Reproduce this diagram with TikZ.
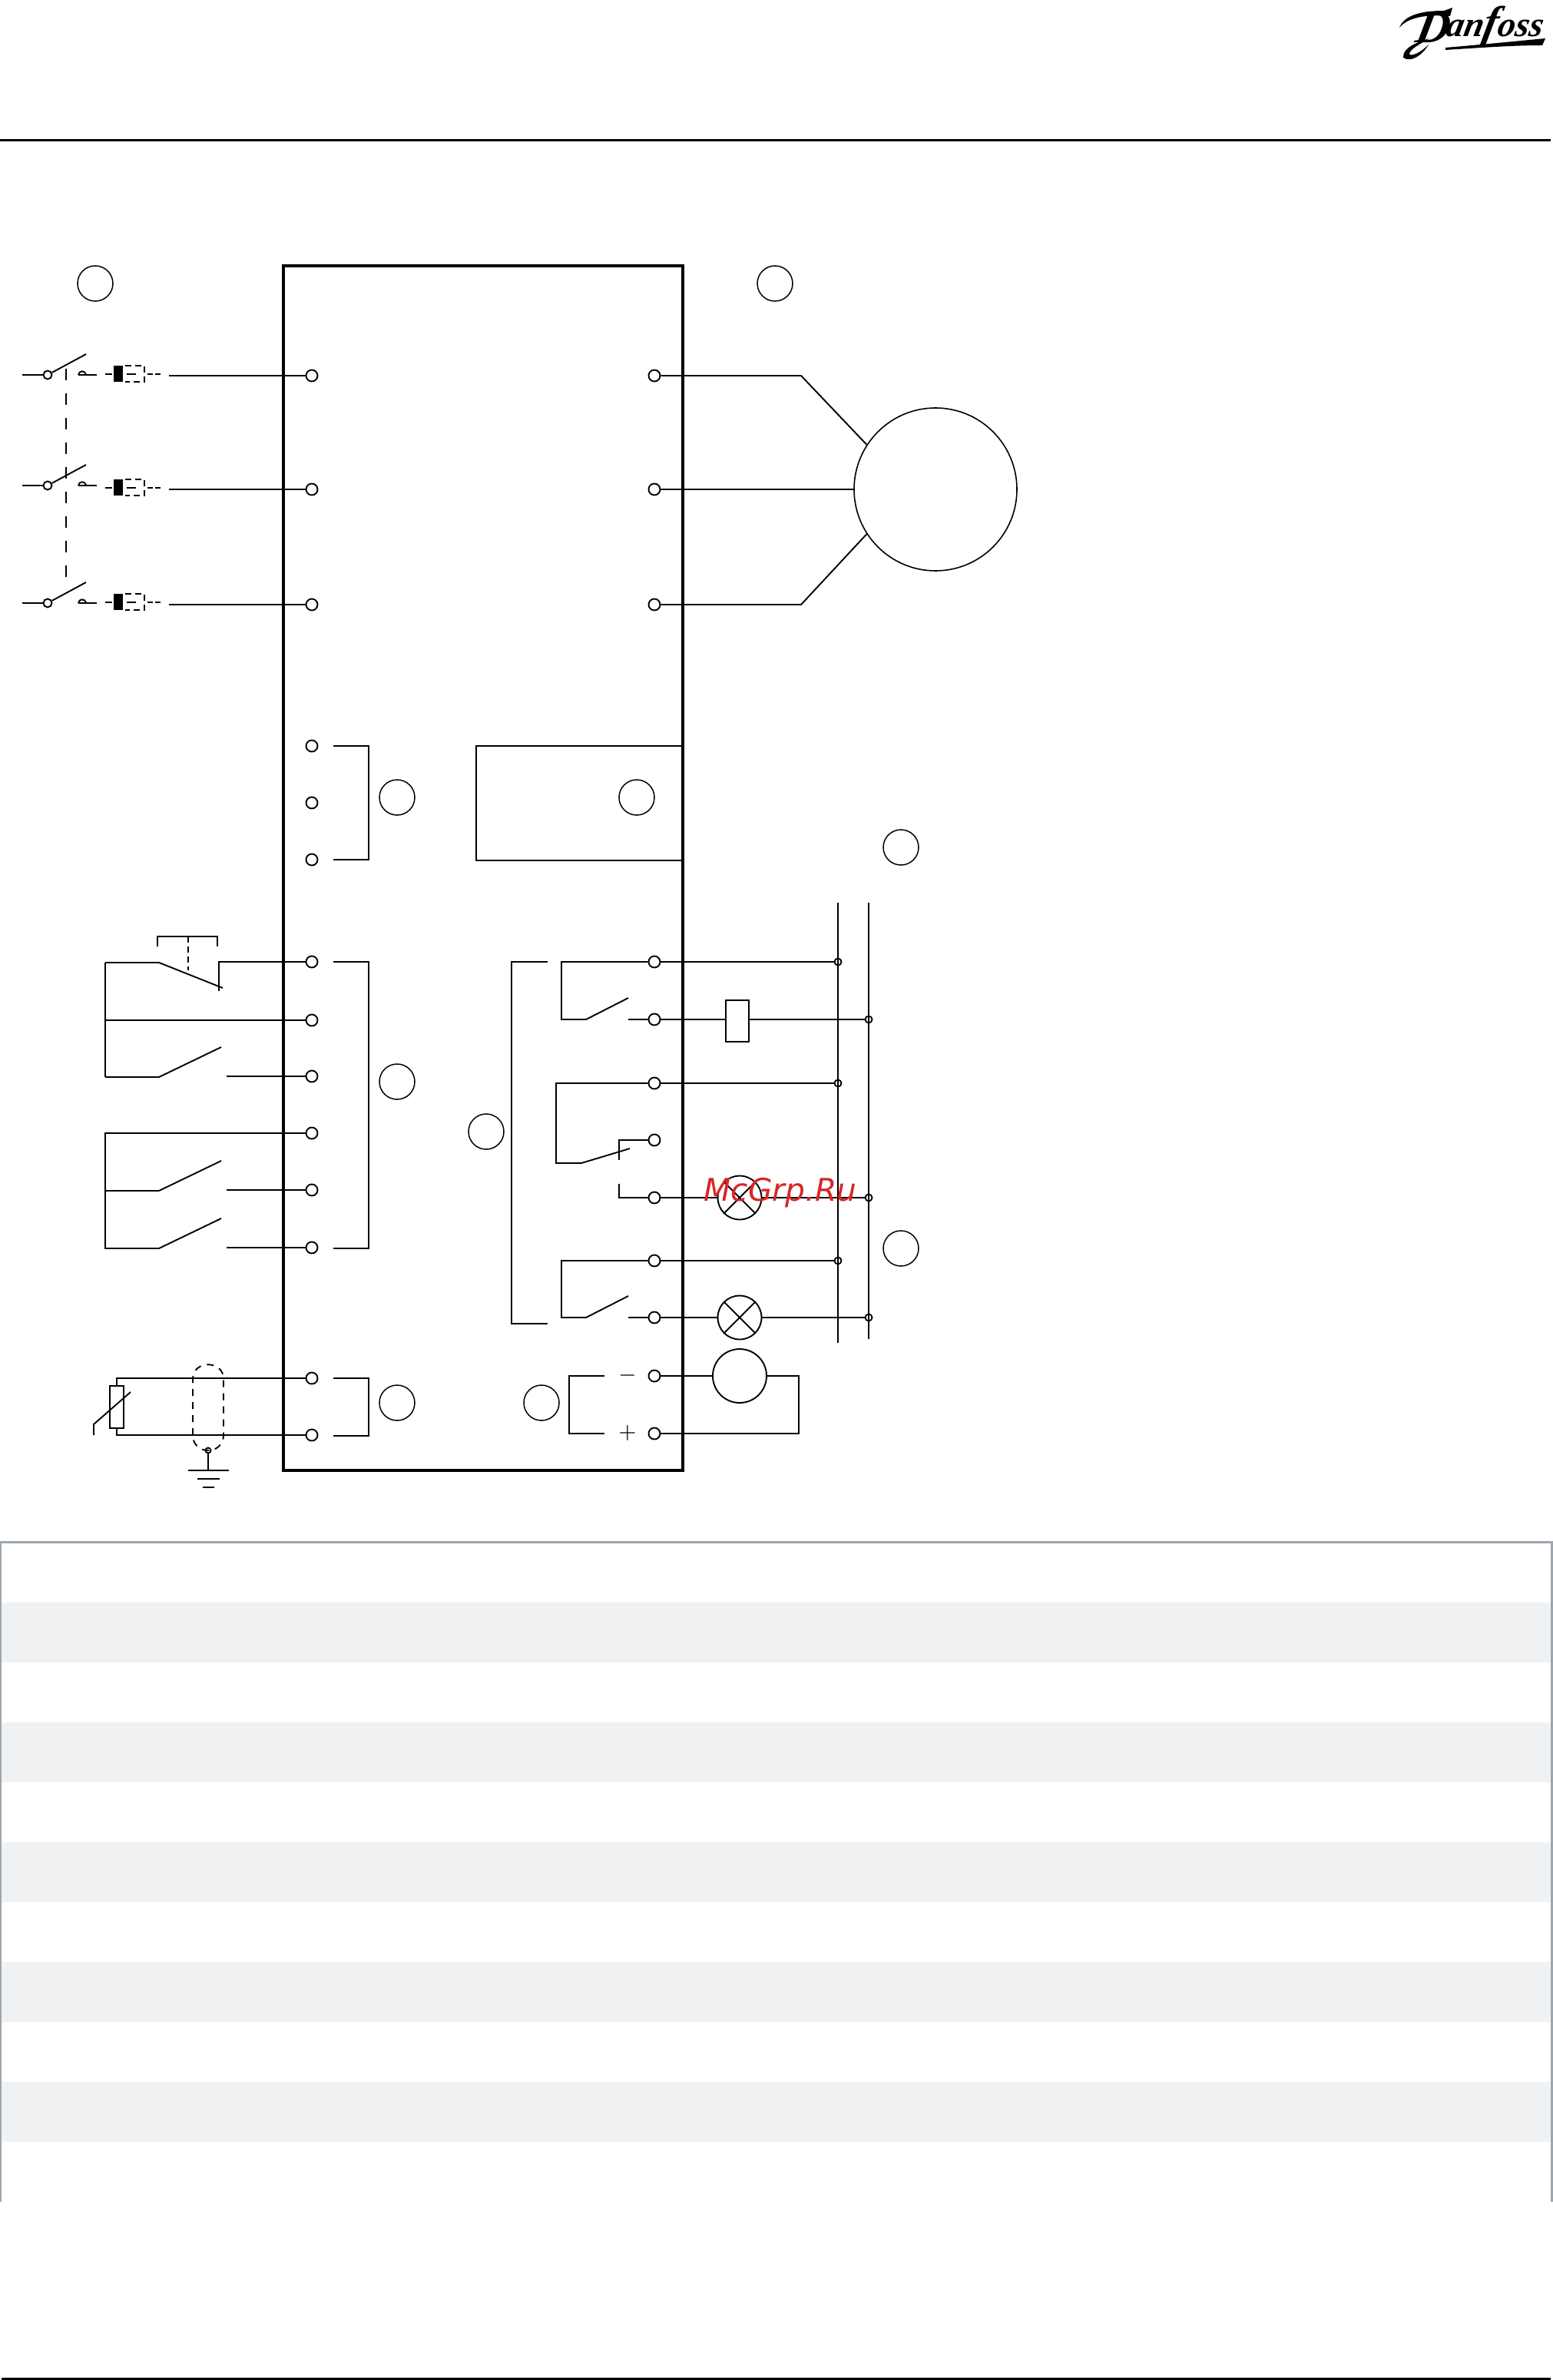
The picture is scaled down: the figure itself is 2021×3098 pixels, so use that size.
\documentclass[tikz,border=0pt]{standalone}
\usepackage{fontspec}
\newfontfamily\markfont{DejaVu Sans}
\newfontfamily\logofont{Liberation Serif}
\usepackage{xcolor}
\usetikzlibrary{positioning,calc}
\definecolor{rowgray}{RGB}{240,241,243}
\definecolor{edgegray}{RGB}{156,166,175}
\definecolor{markred}{RGB}{216,38,38}
\tikzset{
    wire/.style={line width=0.19mm},
    frame/.style={line width=0.34mm},
    term/.style={circle,draw,line width=0.19mm,inner sep=0pt,minimum size=1.5mm},
    busdot/.style={circle,draw,line width=0.19mm,inner sep=0pt,minimum size=0.9mm},
    swdot/.style={circle,draw,line width=0.19mm,inner sep=0pt,minimum size=1.1mm},
    tag/.style={circle,draw,line width=0.15mm,inner sep=0pt,minimum size=4.6mm},
    lamp/.style={circle,draw,line width=0.19mm,inner sep=0pt,minimum size=5.7mm},
    gate/.style={line width=0.19mm,dash pattern=on 0.8mm off 0.5mm},
    longdash/.style={line width=0.19mm,dash pattern=on 1.5mm off 1.7mm},
    shield/.style={line width=0.19mm,dash pattern=on 0.9mm off 0.8mm}
}

\begin{document}
\begin{tikzpicture}[x=0.1mm,y=-0.1mm]
    \useasboundingbox (0,0) rectangle (2021,3098);
    % page furniture
    \draw[line width=0.3mm] (0,183) -- (2019,183);
    \draw[line width=0.3mm] (2,3096.5) -- (2019,3096.5);
    \foreach \y in {2086,2242,2398,2554,2710} {
        \fill[rowgray] (2,\y) rectangle (2019,\y+78);
    }
    \draw[edgegray,line width=0.3mm] (1,2866) -- (1,2007) -- (2020,2007) -- (2020,2866);

    % drive outline
    \draw[frame] (369,346) rectangle (889,1914);

    % terminals
    \foreach \n/\y in {1/489,2/637,3/787,4/971,5/1045,6/1119,7/1252,8/1328,9/1401,10/1475,11/1549,12/1624,13/1794,14/1868} {
        \node[term] (in\n) at (406,\y) {};
    }
    \foreach \n/\y in {1/489,2/637,3/787,4/1252,5/1327,6/1410,7/1484,8/1559,9/1641,10/1715,11/1791,12/1866} {
        \node[term] (out\n) at (852,\y) {};
    }

    % empty number circles
    \foreach \n/\x/\y in {1/124/369,2/1009/369,3/517/1038,4/829/1038,5/1173/1103,6/517/1408,7/633/1473,8/1173/1625,9/517/1826,10/705/1826} {
        \node[tag] (tag\n) at (\x,\y) {};
    }

    % mains switch and fuses
    \foreach \n/\y/\f in {1/488/487,2/632/635,3/785/784} {
        \node[swdot] (sw\n) at (62,\y) {};
        \coordinate (feed\n) at (29,\y);
        \coordinate (blade\n) at (112,\y-27);
        \draw[wire] (feed\n) -- (sw\n);
        \draw[wire] (sw\n) -- (blade\n);
        \draw[wire] (102,\y) .. controls (103,\y-6) and (110,\y-6) .. (112,\y-1);
        \draw[wire] (102,\y) -- (126,\y);
        \draw[wire] (137,\f) -- (146,\f);
        \fill (148,\f-11) rectangle (160,\f+10);
        \draw[gate] (163,\f-11) -- (188,\f-11) -- (188,\f+10) -- (163,\f+10);
        \draw[wire] (165,\f) -- (177,\f);
        \draw[wire] (192,\f) -- (199,\f);
        \draw[wire] (202,\f) -- (209,\f);
        \coordinate (line\n) at ($(in\n)+(-186,0)$);
        \draw[wire] (line\n) -- (in\n);
    }
    \draw[longdash] (86,480) -- (86,753);

    % motor
    \node[circle,draw,line width=0.16mm,inner sep=0pt,minimum size=21.2mm] (motor) at (1218,637) {};
    \draw[wire] (out1) -- (1043,489) -- (motor.147);
    \draw[wire] (out2) -- (motor);
    \draw[wire] (out3) -- (1043,787) -- (motor.213);

    % option box and brackets
    \draw[wire] (889,971) -- (620,971) -- (620,1120) -- (889,1120);
    \draw[wire] (434,971) -- (480,971) -- (480,1119) -- (434,1119);
    \draw[wire] (434,1252) -- (480,1252) -- (480,1625) -- (434,1625);
    \draw[wire] (434,1794) -- (480,1794) -- (480,1869) -- (434,1869);
    \draw[wire] (713,1252) -- (666,1252) -- (666,1723) -- (713,1723);

    % digital inputs
    \draw[wire] (in8) -- (137,1328);
    \draw[wire] (137,1253) -- (137,1402);
    \draw[wire] (137,1253) -- (207,1253) -- (290,1286);
    \draw[wire] (285,1290) -- (285,1252) -- (in7);
    \draw[wire] (205,1232) -- (205,1219) -- (283,1219) -- (283,1232);
    \draw[gate] (245,1219) -- (245,1263);
    \draw[wire] (in10) -- (137,1475) -- (137,1626);
    \foreach \n/\y in {9/1401,11/1549,12/1624} {
        \coordinate (cnt\n) at (295,\y);
        \draw[wire] (cnt\n) -- (in\n);
        \draw[wire] (137,\y+1) -- (207,\y+1) -- (288,\y-38);
    }

    % thermistor, shield, earth
    \draw[wire] (in13) -- (152,1794) -- (152,1804);
    \draw[wire] (in14) -- (152,1868) -- (152,1859);
    \node[draw,line width=0.19mm,inner sep=0pt,minimum width=1.8mm,minimum height=5.5mm] (ptc) at (152,1831.5) {};
    \draw[wire] (122,1868) -- (122,1854) -- (170,1812);
    \draw[shield] (251,1868) -- (251,1795) .. controls (251,1770) and (291,1770) .. (291,1795) -- (291,1868) .. controls (291,1882) and (280,1888) .. (271,1888) .. controls (262,1888) and (251,1882) .. (251,1868);
    \node[swdot,minimum size=0.7mm] (shd) at (271,1888) {};
    \coordinate (earth) at (271,1914);
    \draw[wire] (shd) -- (earth);
    \draw[wire] (245,1914) -- (298,1914);
    \draw[wire] (257,1925) -- (286,1925);
    \draw[wire] (264,1936) -- (279,1936);

    % relays
    \foreach \a/\b/\t/\y in {4/5/1252/1327,9/10/1641/1715} {
        \draw[wire] (out\a) -- (731,\t) -- (731,\y) -- (763,\y) -- (818,\y-28);
        \coordinate (cnt\b) at (818,\y);
        \draw[wire] (cnt\b) -- (out\b);
    }
    \draw[wire] (out6) -- (724,1410) -- (724,1514) -- (757,1514) -- (820,1495);
    \draw[wire] (806,1510) -- (806,1484) -- (out7);
    \draw[wire] (806,1541) -- (806,1559) -- (out8);

    % 0-20 mA output
    \draw[wire] (787,1791) -- (741,1791) -- (741,1866) -- (787,1866);
    \node[inner sep=0pt,font=\fontsize{8.5}{8.5}\selectfont] (minus) at (817,1790) {$-$};
    \node[inner sep=0pt,font=\fontsize{8.5}{8.5}\selectfont] (plus) at (817,1865) {$+$};

    % supply rails
    \draw[wire] (1091,1175) -- (1091,1748);
    \draw[wire] (1131,1175) -- (1131,1743);
    \foreach \n/\a/\y in {1/4/1252,2/6/1410,3/9/1641} {
        \node[busdot] (dot\n) at (1091,\y) {};
        \draw[wire] (out\a) -- (dot\n);
    }
    \foreach \n/\y in {4/1327,5/1559,6/1715} {
        \node[busdot] (dot\n) at (1131,\y) {};
    }

    % loads
    \node[draw,line width=0.19mm,inner sep=0pt,minimum width=3mm,minimum height=5.4mm] (coil) at (960,1329) {};
    \draw[wire] (out5) -- (coil.west |- out5);
    \draw[wire] (coil.east |- dot4) -- (dot4);
    \foreach \n/\a/\d/\y in {1/8/5/1559,2/10/6/1715} {
        \node[lamp] (lamp\n) at (963,\y) {};
        \draw[wire] (out\a) -- (lamp\n);
        \draw[wire] (lamp\n) -- (dot\d);
        \draw[wire] (lamp\n.45) -- (lamp\n.225);
        \draw[wire] (lamp\n.135) -- (lamp\n.315);
    }
    \node[circle,draw,line width=0.19mm,inner sep=0pt,minimum size=7mm] (meter) at (963,1791) {};
    \draw[wire] (out11) -- (meter);
    \draw[wire] (meter) -- (1040,1791) -- (1040,1866) -- (out12);

    % logo
    \node[anchor=base west,inner sep=0pt,xslant=0.2,font=\logofont\bfseries\itshape\fontsize{13}{13}\selectfont] (logo) at (1842,48) {\raisebox{-2pt}{\fontsize{17}{17}\selectfont D}\kern-1.2pt an{\fontsize{16}{16}\selectfont f}oss};
    \fill (1822,36) .. controls (1828,20) and (1850,14) .. (1880,14) -- (1891,10) -- (1888,21) .. controls (1865,19) and (1835,20) .. (1822,36) -- cycle;
    \fill (1861,50) .. controls (1845,55) and (1826,62) .. (1827,75) .. controls (1837,82) and (1852,72) .. (1860,58) .. controls (1850,68) and (1840,73) .. (1835,71) .. controls (1835,64) and (1848,58) .. (1861,50) -- cycle;
    \fill (1882,62) .. controls (1930,58) and (1970,54) .. (2012,50) -- (2008,59) .. controls (1970,59) and (1930,62) .. (1882,65) -- cycle;

    % watermark
    \node[anchor=base,inner sep=0pt,text=markred,font=\markfont\itshape\fontsize{11.6}{11.6}\selectfont] (stamp) at (1016,1563) {McGrp.Ru};
\end{tikzpicture}
\end{document}
